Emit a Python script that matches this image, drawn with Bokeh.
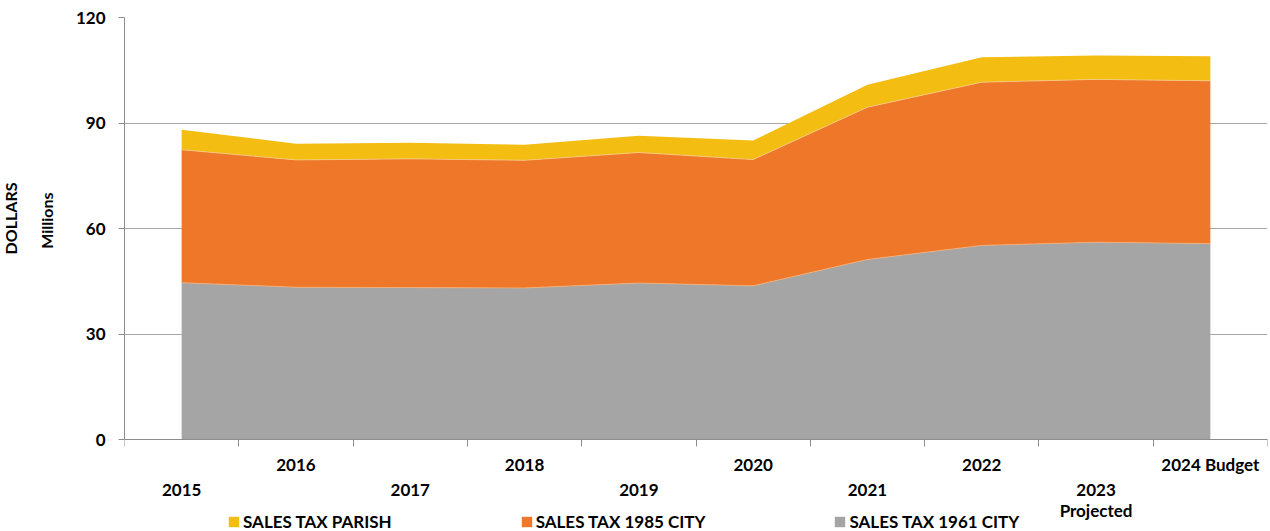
import numpy as np
from bokeh.plotting import figure
from bokeh.models import (ColumnDataSource, FixedTicker, LinearAxis, Legend, LegendItem,
                          CustomJSTickFormatter, Range1d, Title)
from bokeh.embed import file_html
from bokeh.resources import INLINE

# ---- data ----
categories = ["2015", "2016", "2017", "2018", "2019", "2020", "2021", "2022",
              "2023\nProjected", "2024 Budget"]
sales_tax_1961_city = [44.6, 43.3, 43.2, 43.1, 44.5, 43.7, 51.2, 55.2, 56.1, 55.7]
sales_tax_1985_city = [37.8, 36.2, 36.6, 36.3, 37.1, 35.9, 43.3, 46.4, 46.3, 46.3]
sales_tax_parish = [5.7, 4.6, 4.6, 4.4, 4.8, 5.4, 6.4, 7.1, 6.8, 7.0]
series_names = ["SALES TAX 1961 CITY", "SALES TAX 1985 CITY", "SALES TAX PARISH"]
y_ticks = [0, 30, 60, 90, 120]
y_title = ["DOLLARS", "Millions"]

FONT = "Lato"
FS = "17px"
colors = ["#a5a5a5", "#ee7729", "#f3bd12"]

W, H = 1270, 531
TOP, BOTTOM_GAP = 17, 92          # frame top / space under the zero line (px)
y_max = y_ticks[-1]
y_min = -y_max * BOTTOM_GAP / (H - TOP - BOTTOM_GAP)

x = list(range(len(categories)))
s1 = np.array(sales_tax_1961_city)
s2 = np.array(sales_tax_1985_city)
s3 = np.array(sales_tax_parish)
src = ColumnDataSource(dict(x=x, s1961=s1, s1985=s2, parish=s3,
                            top1=s1, top2=s1 + s2))

p = figure(width=W, height=H, output_backend="svg", toolbar_location=None,
           x_range=Range1d(-0.5, len(categories) - 0.5), y_range=Range1d(y_min, y_max),
           min_border_left=124, min_border_right=3, min_border_top=TOP, min_border_bottom=0)
p.outline_line_color = None
p.background_fill_color = "white"

rs = p.varea_stack(["s1961", "s1985", "parish"], x="x", source=src, color=colors)
p.line("x", "top1", source=src, line_color="#f4b07a", line_width=1, line_alpha=0.8)
p.line("x", "top2", source=src, line_color="#f8c98a", line_width=1, line_alpha=0.8)

# y axis
yax = p.yaxis[0]
yax.ticker = FixedTicker(ticks=y_ticks)
yax.bounds = (y_ticks[0], y_ticks[-1])
yax.major_tick_out = 6
yax.major_tick_in = 0
yax.minor_tick_line_color = None
yax.major_label_standoff = 13
yax.major_label_text_font = FONT
yax.major_label_text_font_style = "bold"
yax.major_label_text_font_size = FS
yax.major_label_text_color = "black"
yax.axis_line_color = "#8c8c8c"
yax.major_tick_line_color = "#8c8c8c"

# y axis titles (two lines, placed over the 0..120 span)
for txt, so, off in [(y_title[1], 34, 175), (y_title[0], -4, 165)]:
    p.add_layout(Title(text=txt, align="right", offset=off, standoff=so,
                       text_font=FONT, text_font_style="bold",
                       text_font_size="16px", text_color="black"), "left")

p.ygrid.ticker = FixedTicker(ticks=y_ticks)
p.ygrid.grid_line_color = "#a6a6a6"
p.xgrid.grid_line_color = None

# x axis at zero: tick marks between categories
xax = p.xaxis[0]
xax.fixed_location = 0
xax.ticker = FixedTicker(ticks=[i - 0.5 for i in range(len(categories) + 1)])
xax.formatter = CustomJSTickFormatter(code="return ''")
xax.major_tick_out = 7
xax.major_tick_in = 0
xax.minor_tick_line_color = None
xax.major_label_standoff = 0
xax.major_label_text_font_size = "1px"
xax.axis_line_color = "#8c8c8c"
xax.major_tick_line_color = "#8c8c8c"


def label_axis(idx, standoff):
    ax = LinearAxis(ticker=FixedTicker(ticks=idx), fixed_location=0,
                    major_label_overrides={i: categories[i] for i in idx})
    ax.axis_line_color = None
    ax.major_tick_line_color = None
    ax.minor_tick_line_color = None
    ax.major_tick_out = 0
    ax.major_tick_in = 0
    ax.major_label_standoff = standoff
    ax.major_label_text_font = FONT
    ax.major_label_text_font_style = "bold"
    ax.major_label_text_font_size = FS
    ax.major_label_text_line_height = 1.0
    ax.major_label_text_color = "black"
    return ax


p.add_layout(label_axis(x[1::2], 14), "below")
p.add_layout(label_axis(x[0::2], 39), "below")

# legend
items = [LegendItem(label=series_names[i], renderers=[rs[i]]) for i in [2, 1, 0]]
legend = Legend(items=items, orientation="horizontal", location=(103, -1),
                padding=0, margin=0, spacing=128, glyph_width=13, glyph_height=13,
                label_standoff=3, border_line_color=None, background_fill_alpha=0,
                label_text_font=FONT, label_text_font_style="bold",
                label_text_font_size=FS, label_text_color="black")
p.add_layout(legend)

open("out.html", "w").write(file_html(p, INLINE))
